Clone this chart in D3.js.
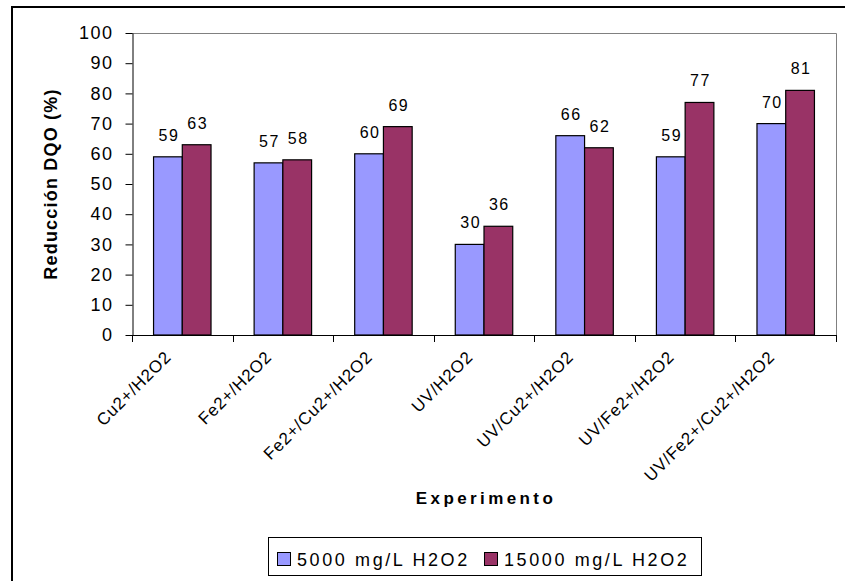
<!DOCTYPE html>
<html>
    <head>
        <meta charset="utf-8">
        <script src="https://cdn.jsdelivr.net/npm/d3@7"></script>
    </head>
    <style>
        body { margin: 0; background: #fff; }
        text { font-family: Arial, "Liberation Sans", sans-serif; fill: #000; }
    </style>
    <body>
        <div id="canvas"></div>
        <script>
            // chart data
            var categories = ['Cu2+/H2O2', 'Fe2+/H2O2', 'Fe2+/Cu2+/H2O2', 'UV/H2O2',
                              'UV/Cu2+/H2O2', 'UV/Fe2+/H2O2', 'UV/Fe2+/Cu2+/H2O2'];
            var seriesNames = ['5000 mg/L H2O2', '15000 mg/L H2O2'];
            var low = [59, 57, 60, 30, 66, 59, 70];
            var high = [63, 58, 69, 36, 62, 77, 81];
            var yTicks = [0, 10, 20, 30, 40, 50, 60, 70, 80, 90, 100];
            var colors = ['#9999FF', '#993366'];

            const w = 845;
            const h = 581;
            const plot = { left: 132, right: 836, top: 33, bottom: 335 };

            const svg = d3.select('#canvas')
                .append('svg')
                .attr('width', w)
                .attr('height', h);

            // outer chart frame (runs off the right and bottom edge)
            svg.append('rect')
                .attr('x', 12).attr('y', 7)
                .attr('width', w).attr('height', h)
                .attr('fill', 'none')
                .attr('stroke', '#000')
                .attr('stroke-width', 2);

            const x = d3.scaleBand()
                .domain(categories)
                .range([plot.left, plot.right])
                .paddingInner(0);

            const x1 = d3.scaleBand()
                .domain(seriesNames)
                .range([0, x.bandwidth()])
                .paddingInner(0)
                .paddingOuter(0.75);

            const y = d3.scaleLinear()
                .domain([0, 100])
                .range([plot.bottom, plot.top]);

            // plot area border (top and right in grey)
            svg.append('path')
                .attr('d', `M${plot.left},${plot.top + 0.5}H${plot.right + 0.5}V${plot.bottom}`)
                .attr('fill', 'none')
                .attr('stroke', '#808080')
                .attr('stroke-width', 1);

            // y axis
            const yAxis = svg.append('g')
                .attr('transform', `translate(${plot.left + 0.5},0)`)
                .call(d3.axisLeft(y).tickValues(yTicks).tickSize(7).tickSizeOuter(0).tickPadding(12));
            yAxis.select('.domain').attr('stroke', '#000');
            yAxis.selectAll('.tick line').attr('stroke', '#000');
            yAxis.selectAll('.tick text')
                .attr('font-family', 'Arial, "Liberation Sans", sans-serif')
                .attr('font-size', '18px')
                .attr('letter-spacing', '1.5px')
                .attr('fill', '#000');

            // bars
            var rows = categories.map((c, i) => ({ cat: c, vals: [low[i], high[i]] }));

            var groups = svg.selectAll('g.group')
                .data(rows)
                .enter()
                .append('g')
                .attr('class', 'group')
                .attr('transform', d => `translate(${x(d.cat)},0)`);

            groups.selectAll('rect')
                .data(d => d.vals.map((v, k) => ({ name: seriesNames[k], v: v, k: k })))
                .enter()
                .append('rect')
                .attr('x', d => x1(d.name))
                .attr('y', d => y(d.v))
                .attr('width', x1.bandwidth())
                .attr('height', d => y(0) - y(d.v))
                .attr('fill', d => colors[d.k])
                .attr('stroke', '#000')
                .attr('stroke-width', 1.2);

            // value labels
            groups.selectAll('text')
                .data(d => d.vals.map((v, k) => ({ name: seriesNames[k], v: v })))
                .enter()
                .append('text')
                .text(d => d.v)
                .attr('x', d => x1(d.name) + x1.bandwidth() / 2 + 1)
                .attr('y', d => y(d.v) - 16)
                .attr('text-anchor', 'middle')
                .attr('font-size', '16px')
                .attr('letter-spacing', '1.5px');

            // x axis line and category boundary ticks
            svg.append('line')
                .attr('x1', plot.left).attr('x2', plot.right + 0.5)
                .attr('y1', y(0) + 0.5).attr('y2', y(0) + 0.5)
                .attr('stroke', '#000');

            var edges = categories.map(c => x(c)).concat([x.range()[1]]);
            svg.selectAll('line.xtick')
                .data(edges)
                .enter()
                .append('line')
                .attr('class', 'xtick')
                .attr('x1', d => Math.round(d) + 0.5).attr('x2', d => Math.round(d) + 0.5)
                .attr('y1', y(0)).attr('y2', y(0) + 7)
                .attr('stroke', '#000');

            // rotated category labels
            svg.selectAll('text.xlabel')
                .data(categories)
                .enter()
                .append('text')
                .attr('class', 'xlabel')
                .text(d => d)
                .attr('text-anchor', 'end')
                .attr('font-size', '17px')
                .attr('letter-spacing', '0.8px')
                .attr('transform', d => `translate(${x(d) + x.bandwidth() / 2 - 10},358) rotate(-45)`);

            // axis titles
            svg.append('text')
                .text('Reducción DQO (%)')
                .attr('transform', `translate(57,${(plot.top + plot.bottom) / 2}) rotate(-90)`)
                .attr('text-anchor', 'middle')
                .attr('font-size', '18px')
                .attr('font-weight', 'bold')
                .attr('letter-spacing', '1.2px');

            svg.append('text')
                .text('Experimento')
                .attr('x', (plot.left + plot.right) / 2 + 2)
                .attr('y', 504)
                .attr('text-anchor', 'middle')
                .attr('font-size', '17px')
                .attr('font-weight', 'bold')
                .attr('letter-spacing', '3.4px');

            // legend
            var legend = svg.append('g');
            legend.append('rect')
                .attr('x', 268.5).attr('y', 537.5)
                .attr('width', 433).attr('height', 38)
                .attr('fill', '#fff')
                .attr('stroke', '#000');

            var legendX = [277, 484];
            var item = legend.selectAll('g.item')
                .data(seriesNames)
                .enter()
                .append('g')
                .attr('class', 'item')
                .attr('transform', (d, i) => `translate(${legendX[i]},552)`);

            item.append('rect')
                .attr('x', 0.5).attr('y', 0.5)
                .attr('width', 13).attr('height', 13)
                .attr('fill', (d, i) => colors[i])
                .attr('stroke', '#000');

            item.append('text')
                .text(d => d)
                .attr('x', 20)
                .attr('y', 14)
                .attr('font-size', '18px')
                .attr('letter-spacing', '2.6px');
        </script>
    </body>
</html>
